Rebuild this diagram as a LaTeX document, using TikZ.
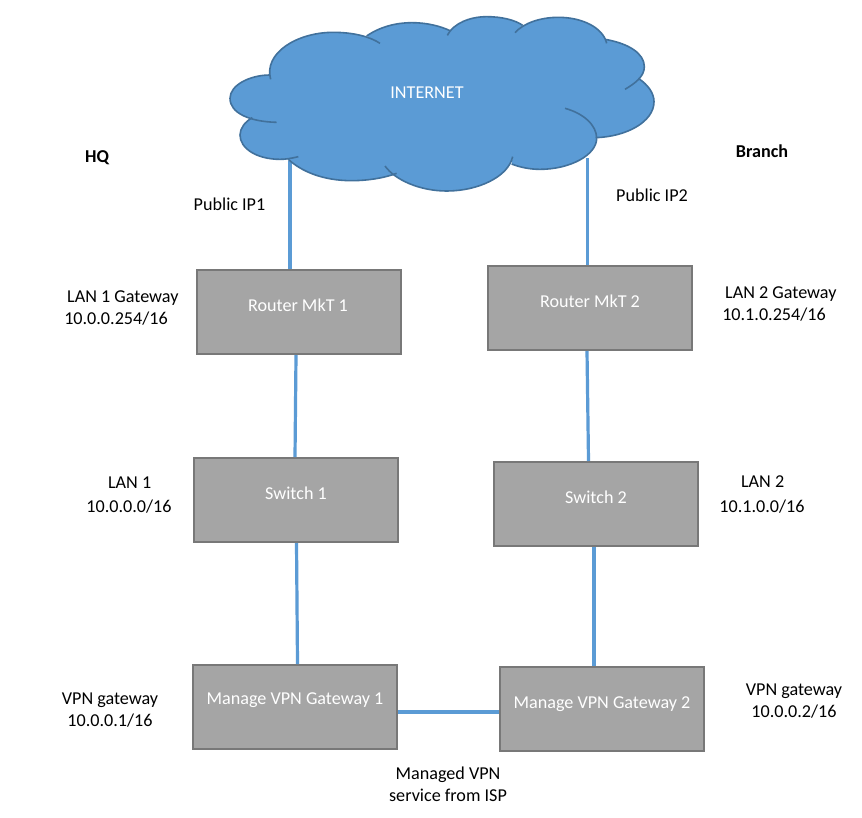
\documentclass[tikz,border=0pt]{standalone}
\usepackage{fontspec}
\setmainfont{Carlito}
\usetikzlibrary{calc}
\definecolor{cloudfill}{HTML}{5B9BD5}
\definecolor{cloudedge}{HTML}{41719C}
\definecolor{boxfill}{HTML}{A5A5A5}
\definecolor{boxedge}{HTML}{787878}
\definecolor{linkblue}{HTML}{5B9BD5}
\tikzset{
  device/.style={draw=boxedge,fill=boxfill,line width=1.5pt,minimum width=153pt,minimum height=63pt,inner sep=0pt},
  devtext/.style={text=white,font=\fontsize{13.6}{16}\selectfont,inner sep=0pt},
  lbl/.style={text=black,font=\fontsize{13.6}{16.5}\selectfont,inner sep=0pt},
  boldlbl/.style={lbl,font=\fontsize{13.6}{16.5}\selectfont\bfseries},
  link/.style={draw=linkblue,line width=2.4pt},
  cloudline/.style={draw=cloudedge,line width=1.2pt}
}
\begin{document}
\begin{tikzpicture}[x=0.75pt,y=-0.75pt]
\useasboundingbox (0,0) rectangle (862,817);
\fill[white] (0,0) rectangle (862,817);
% connector ends under the cloud
\coordinate (c1) at (290,161);
\coordinate (c2) at (587.5,158);
% devices
\node[device] (r1) at (299,312) {};
\node[device] (r2) at (590,308) {};
\node[device] (s1) at (296,500) {};
\node[device] (s2) at (596,504) {};
\node[device] (g1) at (295,707) {};
\node[device] (g2) at (602,709) {};
% connectors
\draw[link] (c1) -- (c1 |- r1.north);
\draw[link] (c2) -- (c2 |- r2.north);
\draw[link] ($(r1.south)+(-3,0)$) -- ($(s1.north)+(-1,0)$);
\draw[link] ($(r2.south)+(-3,0)$) -- ($(s2.north)+(-7.5,0)$);
\draw[link] ($(s1.south)+(0.5,0)$) -- ($(g1.north)+(2.5,0)$);
\draw[link] ($(s2.south)+(-2,0)$) -- ($(g2.north)+(-8,0)$);
\draw[link] ($(g1.east)+(0,5)$) -- ($(g2.west)+(0,3)$);
% cloud
\begin{scope}[shift={(220,0)},x=0.25pt,y=-0.25pt]
\fill[cloudfill]
  (152,238) .. controls (130,160) and (230,97) .. (340,97) .. controls (400,97) and (450,110) .. (480,130)
  -- (440,108) .. controls (480,80) and (530,68) .. (575,68) .. controls (620,68) and (660,78) .. (690,92)
  -- (682,106) .. controls (700,70) and (750,50) .. (800,50) .. controls (845,50) and (885,60) .. (908,76)
  -- (885,98) .. controls (910,70) and (960,52) .. (1015,52) .. controls (1090,52) and (1150,85) .. (1160,130)
  -- (1155,118) .. controls (1225,130) and (1273,160) .. (1273,200) .. controls (1273,230) and (1245,250) .. (1215,268)
  -- (1255,235) .. controls (1285,255) and (1302,280) .. (1302,305) .. controls (1302,365) and (1220,410) .. (1127,413)
  -- (1130,415) .. controls (1130,465) and (1050,508) .. (960,508) .. controls (930,508) and (900,502) .. (875,492)
  -- (878,470) .. controls (865,530) and (775,573) .. (680,573) .. controls (600,573) and (525,540) .. (495,498)
  -- (530,520) .. controls (490,535) and (440,542) .. (395,542) .. controls (310,542) and (245,515) .. (205,478)
  -- (180,478) .. controls (110,478) and (60,445) .. (60,405) .. controls (60,385) and (75,365) .. (97,353)
  -- (170,367) .. controls (90,365) and (30,340) .. (30,295) .. controls (30,255) and (90,225) .. (150,225) -- cycle;
\draw[cloudline] (152,238) .. controls (130,160) and (230,97) .. (340,97) .. controls (400,97) and (450,110) .. (480,130);
\draw[cloudline] (440,108) .. controls (480,80) and (530,68) .. (575,68) .. controls (620,68) and (660,78) .. (690,92);
\draw[cloudline] (682,106) .. controls (700,70) and (750,50) .. (800,50) .. controls (845,50) and (885,60) .. (908,76);
\draw[cloudline] (885,98) .. controls (910,70) and (960,52) .. (1015,52) .. controls (1090,52) and (1150,85) .. (1160,130);
\draw[cloudline] (1155,118) .. controls (1225,130) and (1273,160) .. (1273,200) .. controls (1273,230) and (1245,250) .. (1215,268);
\draw[cloudline] (1255,235) .. controls (1285,255) and (1302,280) .. (1302,305) .. controls (1302,365) and (1220,410) .. (1127,413);
\draw[cloudline] (1035,325) .. controls (1090,340) and (1130,375) .. (1130,415) .. controls (1130,465) and (1050,508) .. (960,508) .. controls (930,508) and (900,502) .. (875,492);
\draw[cloudline] (878,470) .. controls (865,530) and (775,573) .. (680,573) .. controls (600,573) and (525,540) .. (495,498);
\draw[cloudline] (530,520) .. controls (490,535) and (440,542) .. (395,542) .. controls (310,542) and (245,515) .. (205,478);
\draw[cloudline] (235,470) .. controls (210,476) and (195,478) .. (180,478) .. controls (110,478) and (60,445) .. (60,405) .. controls (60,385) and (75,365) .. (97,353);
\draw[cloudline] (170,367) .. controls (90,365) and (30,340) .. (30,295) .. controls (30,255) and (90,225) .. (150,225);
\end{scope}
\node[devtext] (inet) at (427,93) {INTERNET};
% device captions
\node[devtext] (r1t) at (298,305.5) {Router MkT 1};
\node[devtext] (r2t) at (590,301.5) {Router MkT 2};
\node[devtext] (s1t) at (296,493.5) {Switch 1};
\node[devtext] (s2t) at (596,497.5) {Switch 2};
\node[devtext] (g1t) at (295,700) {Manage VPN Gateway 1};
\node[devtext] (g2t) at (602,704) {Manage VPN Gateway 2};
% labels
\node[boldlbl] (hq) at (97,157.5) {HQ};
\node[boldlbl] (branch) at (762,151) {Branch};
\node[lbl] (ip1) at (229.5,204.5) {Public IP1};
\node[lbl] (ip2) at (652,195) {Public IP2};
\node[lbl,align=left,anchor=west] (l1g) at (64,307.5) {\hspace*{2.2pt}LAN 1 Gateway\\10.0.0.254/16};
\node[lbl,align=left,anchor=west] (l2g) at (722,304) {\hspace*{2.2pt}LAN 2 Gateway\\10.1.0.254/16};
\node[lbl,align=center] (l1) at (129,495) {\hspace*{1pt}LAN 1\\[2pt]10.0.0.0/16};
\node[lbl,align=center] (l2) at (762,494.5) {\hspace*{1pt}LAN 2\\[2pt]10.1.0.0/16};
\node[lbl,align=center] (v1) at (110,710.5) {VPN gateway\\10.0.0.1/16};
\node[lbl,align=center] (v2) at (794,701.5) {VPN gateway\\10.0.0.2/16};
\node[lbl,align=center] (svc) at (448,784) {Managed VPN\\service from ISP};
\end{tikzpicture}
\end{document}
